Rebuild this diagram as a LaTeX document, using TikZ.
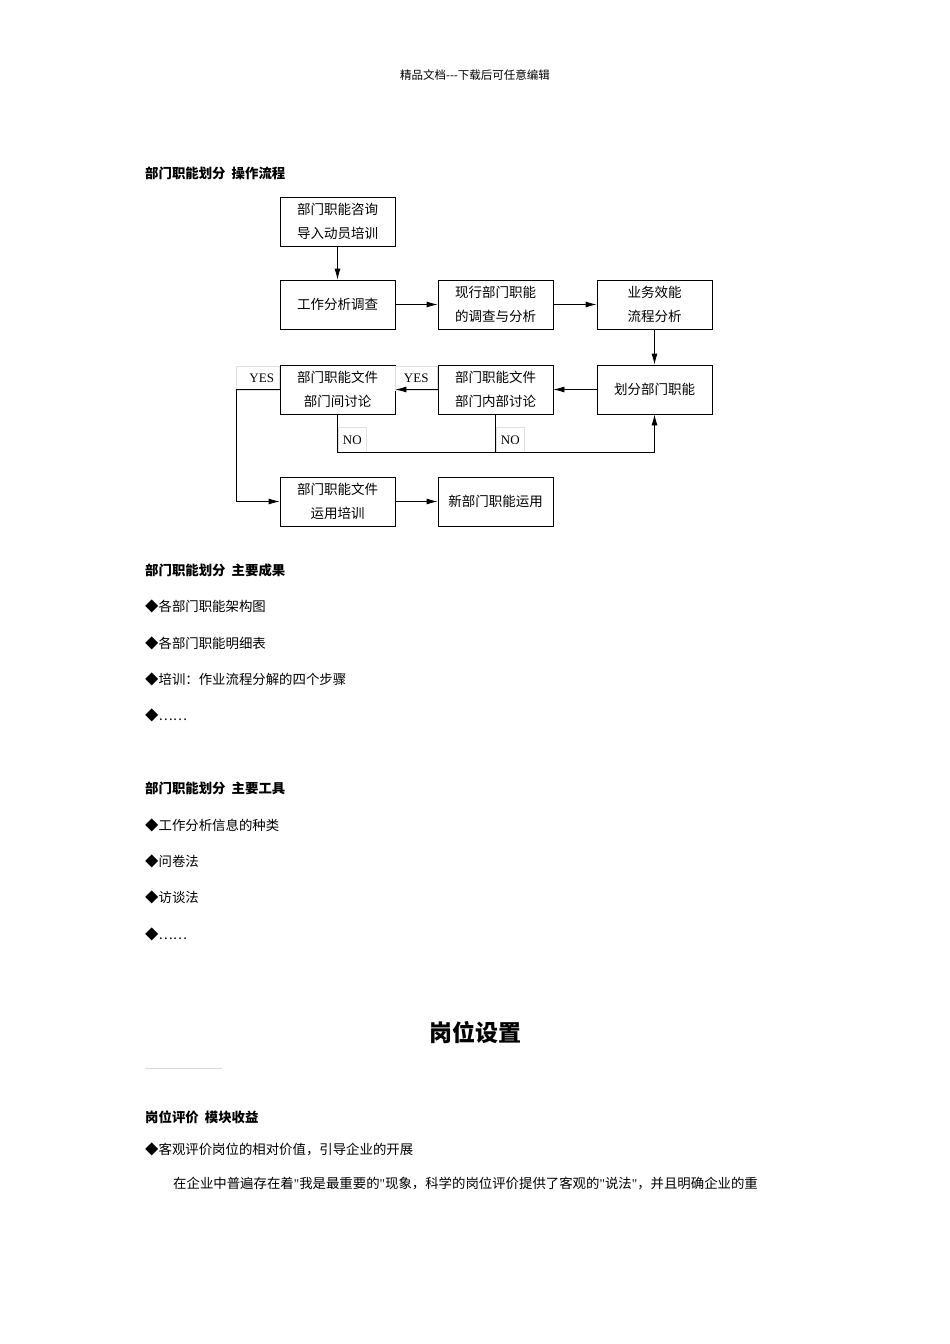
\documentclass[tikz,border=0pt]{standalone}
\usepackage{fontspec}
\setmainfont{Noto Sans CJK SC}
\newfontfamily\latinfont{Liberation Serif}
\usetikzlibrary{arrows.meta}
\newcommand{\dq}{{\latinfont\symbol{34}}}
\begin{document}
\begin{tikzpicture}[x=1pt,y=-1pt,
  box/.style={draw,line width=0.8pt,minimum width=115pt,minimum height=49pt,align=center,inner sep=0pt,font=\fontsize{13.5}{24}\selectfont},
  lab/.style={draw=black!12,line width=0.6pt,inner sep=1pt,font=\latinfont\fontsize{13}{14}\selectfont},
  arr/.style={line width=0.8pt,-{Latex[length=11pt,width=6pt]}},
  txt/.style={anchor=west,inner sep=0pt,font=\fontsize{13.4}{15}\selectfont},
  hd/.style={anchor=west,inner sep=0pt,font=\bfseries\fontsize{13.4}{15}\selectfont}]
\useasboundingbox[fill=white] (0,0) rectangle (950,1344);
\node[inner sep=0pt,font=\fontsize{11.5}{13}\selectfont] (top) at (475,75) {精品文档{-}{-}{-}下载后可任意编辑};
\node[hd] (h1) at (145,173) {部门职能划分\ \ 操作流程};
\node[box] (A) at (337.5,221.5) {部门职能咨询\\导入动员培训};
\node[box] (B) at (337.5,304.5) {工作分析调查};
\node[box] (C) at (495.5,304.5) {现行部门职能\\的调查与分析};
\node[box] (D) at (654.5,304.5) {业务效能\\流程分析};
\node[box] (E) at (654.5,389.5) {划分部门职能};
\node[box] (F) at (495.5,389.5) {部门职能文件\\部门内部讨论};
\node[box] (G) at (337.5,389.5) {部门职能文件\\部门间讨论};
\node[box] (H) at (337.5,501.5) {部门职能文件\\运用培训};
\node[box] (I) at (495.5,501.5) {新部门职能运用};
\draw[arr] (A) -- (B);
\draw[arr] (B) -- (C);
\draw[arr] (C) -- (D);
\draw[arr] (D) -- (E);
\draw[arr] (E) -- (F);
\coordinate (nl) at (337.5,452);
\coordinate (nr) at (654.5,452);
\coordinate (yl) at (236,389.5);
\coordinate (yb) at (236,501.5);
\node[lab,minimum width=43pt,minimum height=24pt,anchor=north east] (y1) at (279.5,365.5) {\hspace*{8pt}YES};
\node[lab,minimum width=42pt,minimum height=24pt,anchor=north east] (y2) at (437.5,365.5) {YES};
\node[lab,minimum width=28pt,minimum height=25pt,anchor=north west] (n1) at (338,427) {NO};
\node[lab,minimum width=28pt,minimum height=25pt,anchor=north west] (n2) at (496,427) {NO};
\draw[arr] (F) -- (G);
\draw[arr] (H) -- (I);
\draw[line width=0.8pt] (G.south) -- (nl) -- (nr);
\draw[line width=0.8pt] (F.south) -- (495.5,452);
\draw[arr] (nr) -- (E.south);
\draw[line width=0.8pt] (G.west) -- (yl) -- (yb);
\draw[arr] (yb) -- (H.west);
\node[hd] (h2) at (145,570) {部门职能划分\ \ 主要成果};
\node[txt] (t1) at (145,606) {◆各部门职能架构图};
\node[txt] (t2) at (145,643) {◆各部门职能明细表};
\node[txt] (t3) at (145,679) {◆培训：作业流程分解的四个步骤};
\node[txt] (t4) at (145,715) {◆……};
\node[hd] (h3) at (145,788) {部门职能划分\ \ 主要工具};
\node[txt] (u1) at (145,825) {◆工作分析信息的种类};
\node[txt] (u2) at (145,861) {◆问卷法};
\node[txt] (u3) at (145,897) {◆访谈法};
\node[txt] (u4) at (145,934) {◆……};
\node[inner sep=0pt,font=\bfseries\fontsize{23}{26}\selectfont] (title) at (475,1033) {岗位设置};
\draw[black!15,line width=0.6pt] (145,1068) -- (222,1068);
\node[hd] (h4) at (145,1117) {岗位评价\ \ 模块收益};
\node[txt] (v1) at (145,1149) {◆客观评价岗位的相对价值，引导企业的开展};
\node[txt] (v2) at (173,1184) {在企业中普遍存在着\dq 我是最重要的\dq 现象，科学的岗位评价提供了客观的\dq 说法\dq ，并且明确企业的重};
\end{tikzpicture}
\end{document}
